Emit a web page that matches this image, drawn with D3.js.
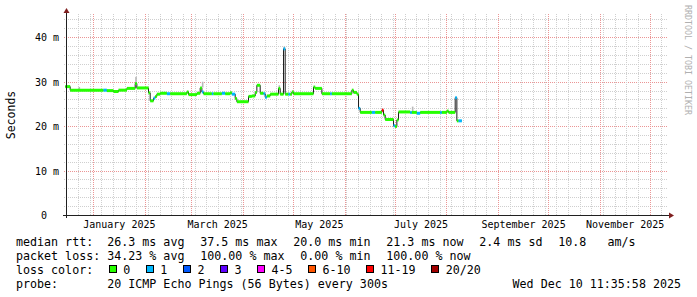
<!DOCTYPE html>
<html>
<head>
<meta charset="utf-8">
<script src="https://cdn.jsdelivr.net/npm/d3@7"></script>
<style>
  body { margin: 0; background: #fff; }
  svg { display: block; font-family: "DejaVu Sans Mono", monospace; }
  text { white-space: pre; }
</style>
</head>
<body>
<svg id="chart" width="697" height="297"></svg>
<script>

// median rtt, as steps: each value holds from its date until the next date
var stepDates = [
  "2024-12-15", "2024-12-18", "2025-01-07", "2025-01-09", "2025-01-13", "2025-01-16",
  "2025-01-21", "2025-01-26", "2025-01-27", "2025-02-03", "2025-02-04", "2025-02-06",
  "2025-02-07", "2025-02-08", "2025-02-10", "2025-02-14", "2025-02-16", "2025-02-26",
  "2025-02-27", "2025-03-04", "2025-03-06", "2025-03-07", "2025-03-08", "2025-03-13",
  "2025-03-14", "2025-03-19", "2025-03-21", "2025-03-24", "2025-03-25", "2025-03-27",
  "2025-03-28", "2025-04-04", "2025-04-06", "2025-04-08", "2025-04-09", "2025-04-11",
  "2025-04-13", "2025-04-14", "2025-04-15", "2025-04-17", "2025-04-22", "2025-04-23",
  "2025-04-25", "2025-04-26", "2025-04-28", "2025-04-29", "2025-04-30", "2025-05-01",
  "2025-05-13", "2025-05-14", "2025-05-18", "2025-05-23", "2025-05-24", "2025-06-05",
  "2025-06-06", "2025-06-08", "2025-06-09", "2025-06-10", "2025-06-17", "2025-06-19",
  "2025-06-23", "2025-06-24", "2025-06-25", "2025-06-30", "2025-07-01", "2025-07-02",
  "2025-07-03", "2025-07-10", "2025-07-11", "2025-07-14", "2025-07-16", "2025-07-28",
  "2025-07-29", "2025-08-01", "2025-08-02", "2025-08-06", "2025-08-07", "2025-08-08"
];
var stepValues = [
  29.0, 28.2, 28.2, 28.1, 27.9, 28.2,
  28.6, 29.7, 28.7, 27.6, 25.8, 26.4,
  26.8, 27.3, 27.5, 27.4, 27.4, 27.8,
  27.2, 27.5, 28.7, 27.8, 27.4, 27.4,
  27.4, 27.5, 27.4, 27.6, 27.3, 26.3,
  25.6, 26.8, 26.9, 27.7, 29.3, 27.5,
  27.4, 26.6, 26.9, 27.3, 28.6, 27.3,
  37.5, 27.3, 27.3, 27.3, 27.8, 27.4,
  28.9, 28.6, 27.4, 27.4, 27.4, 28.2,
  27.7, 27.3, 24.1, 23.2, 23.2, 23.2,
  23.7, 22.6, 21.6, 20.2, 20.0, 21.5,
  23.3, 23.2, 23.2, 23.0, 23.2, 23.2,
  23.2, 23.5, 23.2, 26.5, 21.3, 21.3
];
// lost pings out of 20
var stepLoss = [
  0, 0, 1, 0, 0, 0,
  0, 0, 0, 0, 0, 1,
  0, 0, 0, 1, 0, 0,
  0, 0, 0, 1, 0, 1,
  0, 1, 0, 0, 1, 0,
  0, 0, 0, 0, 0, 0,
  1, 1, 0, 0, 0, 0,
  1, 0, 1, 0, 0, 0,
  0, 0, 0, 1, 0, 0,
  0, 0, 1, 0, 1, 0,
  12, 0, 0, 1, 0, 0,
  0, 1, 0, 1, 0, 1,
  0, 0, 0, 1, 0, 1
];
var dataEnd = "2025-08-10";

// smoke (spread of the 20 pings) where it shows above the median
var smokeDates = ["2024-12-23", "2025-01-26", "2025-03-07", "2025-04-22", "2025-04-25", "2025-07-11"];
var smokeLow = [28.3, 29.7, 28.8, 28.6, 37.5, 23.3];
var smokeHigh = [28.9, 31.2, 30.1, 29.3, 38.0, 24.5];

var graphStart = "2024-12-15 11:35:58";
var graphEnd = "2025-12-10 11:35:58";
var yMax = 45;
var yTicks = [0, 10, 20, 30, 40];
var monthLabels = ["2025-01-01", "2025-03-01", "2025-05-01", "2025-07-01", "2025-09-01", "2025-11-01"];

var rttItems = ["median rtt:  26.3 ms avg", " 37.5 ms max", " 20.0 ms min", " 21.3 ms now", " 2.4 ms sd", " 10.8   am/s"];
var lossItems = ["packet loss: 34.23 % avg", " 100.00 % max", " 0.00 % min", " 100.00 % now"];
var lossLabels = ["0", "1", "2", "3", "4-5", "6-10", "11-19", "20/20"];
var lossColors = ["#26ff00", "#00b8ff", "#0059ff", "#5e00ff", "#ff00ff", "#ff5500", "#ff0000", "#a10000"];
var probeText = "20 ICMP Echo Pings (56 Bytes) every 300s";
var stampText = "Wed Dec 10 11:35:58 2025";


var svg = d3.select("#chart");
var parseDay = d3.timeParse("%Y-%m-%d");
var parseFull = d3.timeParse("%Y-%m-%d %H:%M:%S");

var x = d3.scaleTime()
  .domain([parseFull(graphStart), parseFull(graphEnd)])
  .range([66, 666]);
var y = d3.scaleLinear().domain([0, yMax]).range([215.5, 15.5]);

function px(v) { return Math.floor(v) + 0.5; }

function lossColor(n) {
  if (n <= 3) return lossColors[n];
  if (n <= 5) return lossColors[4];
  if (n <= 10) return lossColors[5];
  if (n <= 19) return lossColors[6];
  return lossColors[7];
}

// grid
var grid = svg.append("g").attr("stroke-dasharray", "1,1").attr("stroke-width", 1);
var t0 = x.domain()[0], t1 = x.domain()[1];

d3.range(2, yMax, 2).forEach(function (v) {
  grid.append("line")
    .attr("x1", 64).attr("x2", 668)
    .attr("y1", px(y(v))).attr("y2", px(y(v)))
    .attr("stroke", v % 10 === 0 ? "#eb9595" : "#cfcfcf");
});
d3.timeMonday.range(t0, t1).forEach(function (d) {
  grid.append("line")
    .attr("x1", px(x(d))).attr("x2", px(x(d)))
    .attr("y1", 215).attr("y2", 13)
    .attr("stroke", "#cfcfcf");
});
d3.timeMonth.range(t0, t1).forEach(function (d) {
  grid.append("line")
    .attr("x1", px(x(d))).attr("x2", px(x(d)))
    .attr("y1", 215).attr("y2", 13)
    .attr("stroke", "#eb9595");
});

// data
var steps = stepDates.map(function (d, i) {
  return {
    t0: parseDay(d),
    t1: parseDay(stepDates[i + 1] || dataEnd),
    v: stepValues[i],
    loss: stepLoss[i]
  };
});

svg.append("g").selectAll("rect")
  .data(smokeDates)
  .enter()
  .append("rect")
  .attr("x", (d) => x(parseDay(d)))
  .attr("width", 1.6)
  .attr("y", (d, i) => y(smokeHigh[i]))
  .attr("height", (d, i) => y(smokeLow[i]) - y(smokeHigh[i]))
  .attr("fill", "#b8b8b8");

var linePts = steps.map((s) => [s.t0, s.v]);
linePts.push([parseDay(dataEnd), stepValues[stepValues.length - 1]]);

svg.append("path")
  .attr("d", d3.line()
    .x((d) => x(d[0]))
    .y((d) => y(d[1]))
    .curve(d3.curveStepAfter)(linePts))
  .attr("fill", "none")
  .attr("stroke", "#1c1c1c")
  .attr("stroke-width", 1);

svg.append("g").selectAll("line")
  .data(steps)
  .enter()
  .append("line")
  .attr("x1", (d) => x(d.t0))
  .attr("x2", (d) => x(d.t1))
  .attr("y1", (d) => y(d.v))
  .attr("y2", (d) => y(d.v))
  .attr("stroke", (d) => lossColor(d.loss))
  .attr("stroke-width", 3);

// axes
svg.append("line")
  .attr("x1", 63).attr("x2", 669).attr("y1", 215.5).attr("y2", 215.5)
  .attr("stroke", "#202020");
svg.append("line")
  .attr("x1", 66.5).attr("x2", 66.5).attr("y1", 218).attr("y2", 12)
  .attr("stroke", "#202020");
svg.append("path").attr("d", "M669,212.5L674,215.5L669,218.5Z").attr("fill", "#7f1f1f");
svg.append("path").attr("d", "M63.5,13L66.5,8L69.5,13Z").attr("fill", "#7f1f1f");

svg.append("g").selectAll("text")
  .data(yTicks)
  .enter()
  .append("text")
  .attr("x", 29)
  .attr("y", (d) => y(d) + 3.6)
  .attr("font-size", "10px")
  .text((d) => String(d).padStart(3) + (d ? " m" : ""));

var monthFmt = d3.timeFormat("%B %Y");
svg.append("g").selectAll("text")
  .data(monthLabels)
  .enter()
  .append("text")
  .attr("x", (d) => {
    var m = parseDay(d);
    return (x(m) + x(d3.timeMonth.offset(m, 1))) / 2;
  })
  .attr("y", 227.5)
  .attr("text-anchor", "middle")
  .attr("font-size", "10px")
  .text((d) => monthFmt(parseDay(d)));

svg.append("text")
  .attr("transform", "translate(15,115) rotate(-90)")
  .attr("text-anchor", "middle")
  .attr("font-size", "11.5px")
  .text("Seconds");

svg.append("text")
  .attr("transform", "translate(684.5,5) rotate(90)")
  .attr("font-size", "8.3px")
  .attr("fill", "#b0b0b0")
  .text("RRDTOOL / TOBI OETIKER");

// legend, monospaced: widths from the character count
var leg = svg.append("g").attr("font-size", "11.66px");
var rowY = [245.5, 259.5, 273.5, 287.5];
var gap = 8.8;

var head = leg.append("text").attr("x", 16).attr("y", rowY[2]).text("loss color:");
var cw = head.node().getComputedTextLength() / 11;

function textRow(items, yy) {
  var xx = 16;
  items.forEach(function (s) {
    leg.append("text").attr("x", xx).attr("y", yy).text(s);
    xx += s.length * cw + gap;
  });
}
textRow(rttItems, rowY[0]);
textRow(lossItems, rowY[1]);

var bx = 16 + cw * 13 + 1.5;
lossLabels.forEach(function (s, i) {
  leg.append("rect")
    .attr("x", Math.round(bx) + 0.5).attr("y", rowY[2] - 8)
    .attr("width", 7).attr("height", 7)
    .attr("fill", lossColors[i])
    .attr("stroke", "#000");
  leg.append("text").attr("x", bx + 14.6).attr("y", rowY[2]).text(s);
  bx += 14.6 + s.length * cw + 15.4;
});

leg.append("text").attr("x", 16).attr("y", rowY[3]).text("probe:".padEnd(13) + probeText);
leg.append("text").attr("x", 681).attr("y", rowY[3]).attr("text-anchor", "end").text(stampText);

</script>
</body>
</html>
